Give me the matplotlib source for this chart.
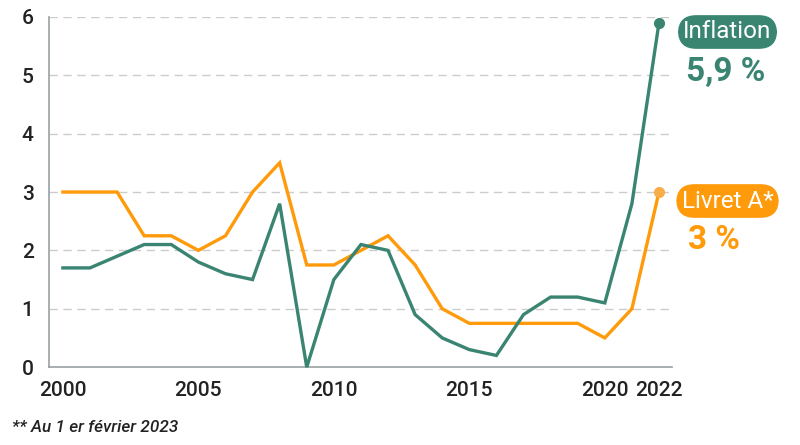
import matplotlib
matplotlib.use("Agg")
import matplotlib.pyplot as plt

years = list(range(2000, 2023))
inflation = [1.7, 1.7, 1.9, 2.1, 2.1, 1.8, 1.6, 1.5, 2.8, 0.0, 1.5, 2.1, 2.0,
             0.9, 0.5, 0.3, 0.2, 0.9, 1.2, 1.2, 1.1, 2.8, 5.9]
livret_a = [3.0, 3.0, 3.0, 2.25, 2.25, 2.0, 2.25, 3.0, 3.5, 1.75, 1.75, 2.0, 2.25,
            1.75, 1.0, 0.75, 0.75, 0.75, 0.75, 0.75, 0.5, 1.0, 3.0]
x_ticks = [2000, 2005, 2010, 2015, 2020, 2022]
y_ticks = [0, 1, 2, 3, 4, 5, 6]
labels = ["Inflation", "Livret A*"]
value_labels = ["5,9 %", "3 %"]
footnote = "** Au 1 er février 2023"

TEAL = "#3a8472"
ORANGE = "#ff9a0a"
ORANGE_DOT = "#f9ad48"
TXT = "#222222"

plt.rcParams['font.family'] = ['Roboto', 'DejaVu Sans']

fig = plt.figure(figsize=(8, 4.45), dpi=100)
ax = fig.add_axes([0.061, 0.175, 0.779, 0.787])

ax.plot(years, livret_a, color=ORANGE, lw=2.4, solid_joinstyle='miter', zorder=3, clip_on=False)
ax.plot(years, inflation, color=TEAL, lw=2.4, solid_joinstyle='miter', zorder=4, clip_on=False)
ax.plot([years[-1]], [livret_a[-1]], 'o', color=ORANGE_DOT, ms=7, zorder=5, clip_on=False)
ax.plot([years[-1]], [inflation[-1]], 'o', color=TEAL, ms=7, zorder=5, clip_on=False)

ax.set_xlim(1999.48, 2022.48)
ax.set_ylim(0, 6)
ax.set_xticks(x_ticks)
ax.set_yticks(y_ticks)
ax.tick_params(length=0, labelsize=15, colors=TXT)
ax.tick_params(axis='x', pad=10)
ax.tick_params(axis='y', pad=11)
for lab in ax.get_xticklabels() + ax.get_yticklabels():
    lab.set_fontweight('medium')

for yv in y_ticks[1:]:
    ax.axhline(yv, color="#cccccc", lw=1.0, dashes=(6, 4), zorder=1)

for s in ['top', 'right']:
    ax.spines[s].set_visible(False)
for s in ['left', 'bottom']:
    ax.spines[s].set_color('#9a9fa3')
    ax.spines[s].set_linewidth(1.2)

# right-side labels
fig.text(0.9094, 1 - 32 / 445, labels[0], color='white', fontsize=17.5, ha='center', va='center',
         bbox=dict(boxstyle='round,pad=0.22,rounding_size=0.75', fc=TEAL, ec='none'))
fig.text(0.857, 1 - 72 / 445, value_labels[0], color=TEAL, fontsize=24, fontweight='bold',
         ha='left', va='center')
fig.text(0.9094, 1 - 201 / 445, labels[1], color='white', fontsize=17.5, ha='center', va='center',
         bbox=dict(boxstyle='round,pad=0.22,rounding_size=0.75', fc=ORANGE, ec='none'))
fig.text(0.86, 1 - 240 / 445, value_labels[1], color=ORANGE, fontsize=24, fontweight='bold',
         ha='left', va='center')

fig.text(0.015, 1 - 428 / 445, footnote, fontsize=12.3, style='italic', fontweight='medium',
         color=TXT, ha='left', va='center')

fig.savefig("out.png", dpi=100)
